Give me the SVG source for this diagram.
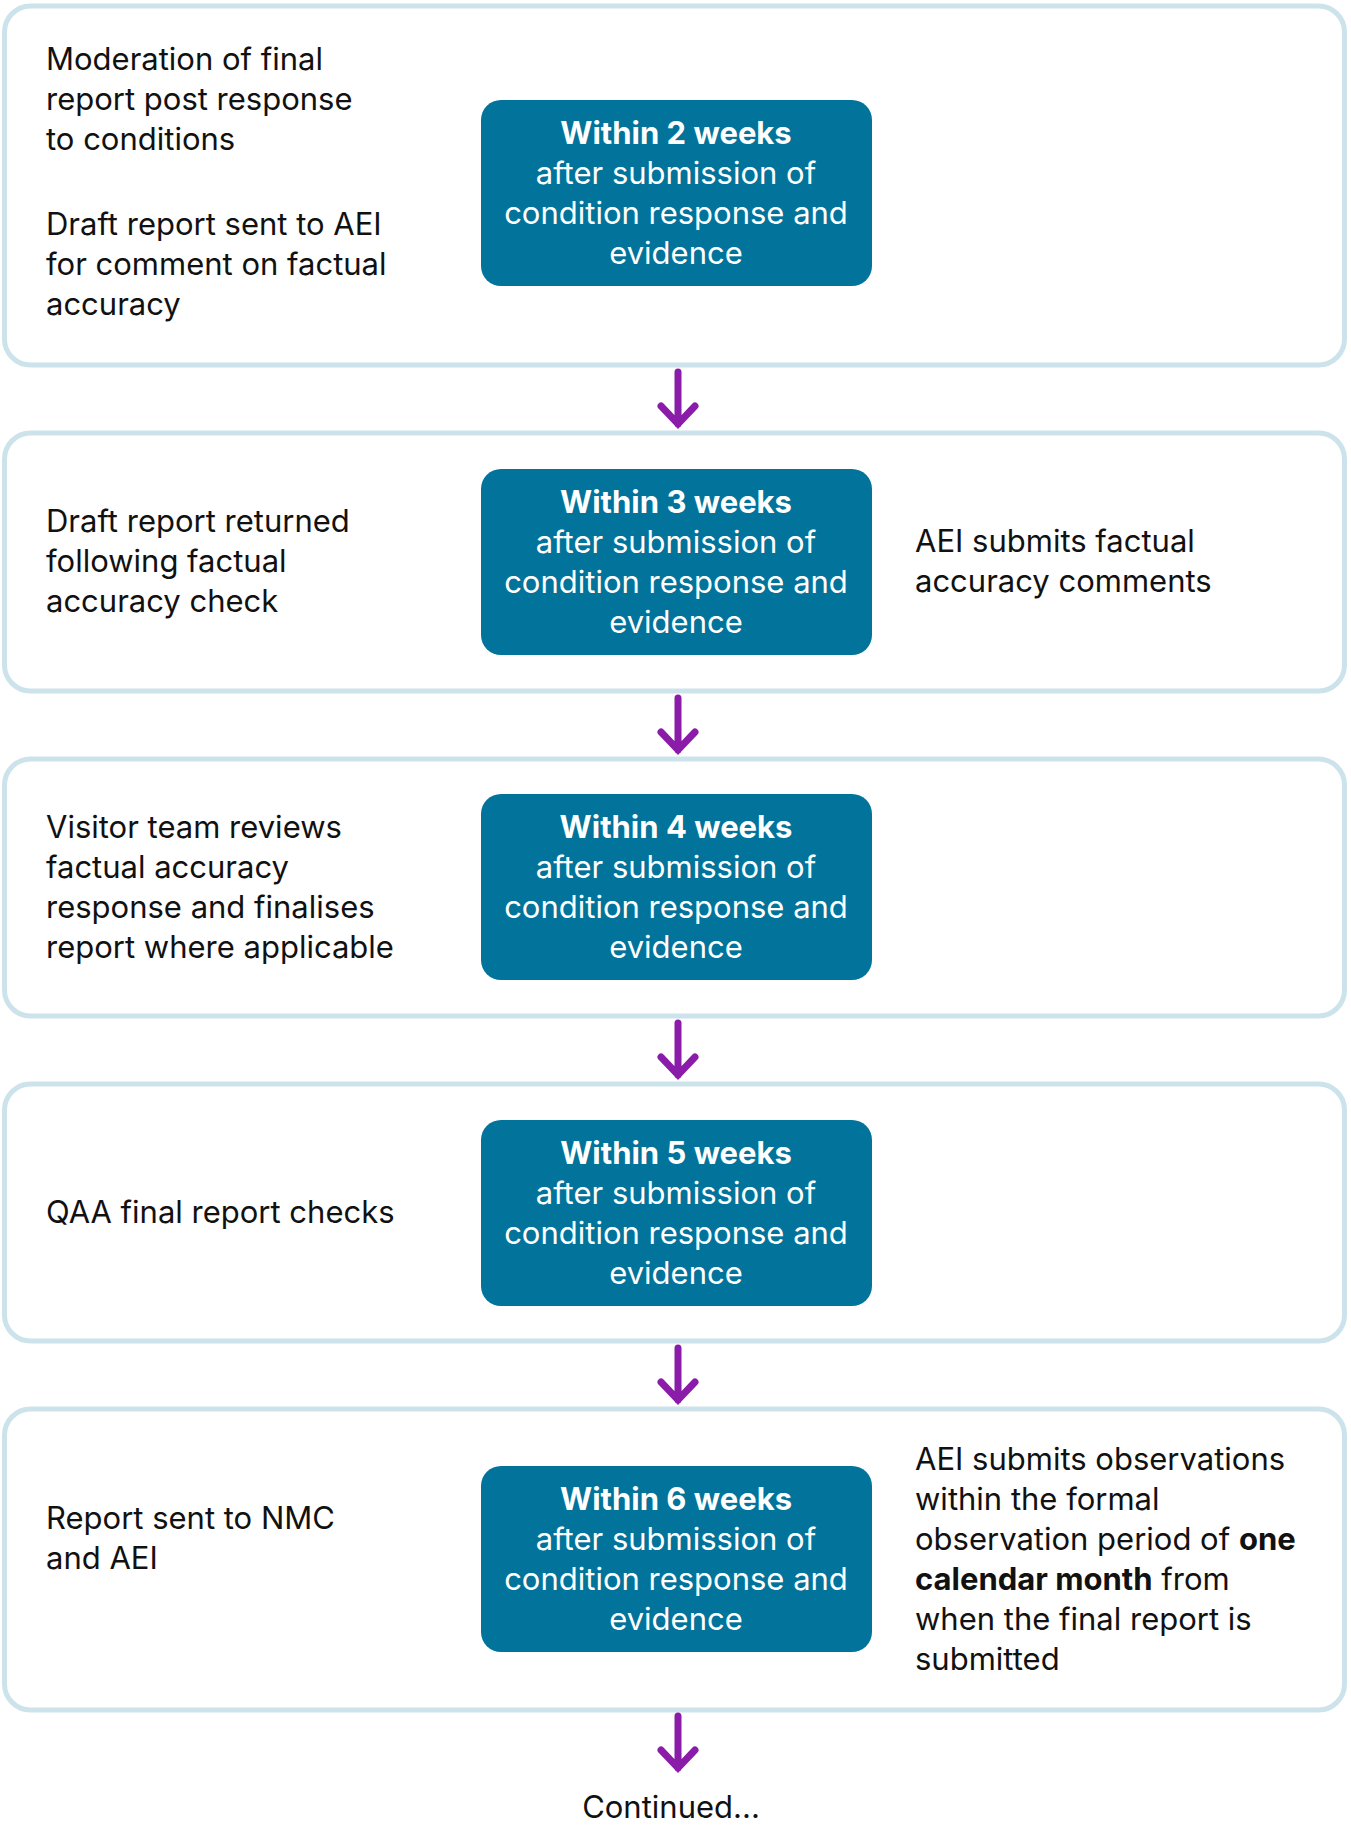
<svg xmlns="http://www.w3.org/2000/svg" width="1351" height="1825" viewBox="0 0 1351 1825">
<defs>
<style>
.frame{fill:#ffffff;stroke:#cde3eb;stroke-width:5}
.teal{fill:#02739a}
.t{font-family:Inter,"Liberation Sans",sans-serif;font-size:31px;fill:#111111}
.w{font-family:Inter,"Liberation Sans",sans-serif;font-size:31px;fill:#ffffff;text-anchor:middle}
.b{font-weight:700}
.arr{fill:none;stroke:#8b1ca9;stroke-width:7;stroke-linecap:round;stroke-linejoin:miter}
</style>
</defs>
<rect width="1351" height="1825" fill="#ffffff"/>

<g id="step1">
<rect class="frame" x="4.5" y="6" width="1340" height="359" rx="26"/>
<rect class="teal" x="481" y="100" width="391" height="186" rx="20"/>
<text class="w"><tspan class="b" x="676" y="144">Within 2 weeks</tspan><tspan x="676" y="184">after submission of</tspan><tspan x="676" y="224">condition response and</tspan><tspan x="676" y="264">evidence</tspan></text>
<text class="t"><tspan x="46" y="70">Moderation of final</tspan><tspan x="46" y="110">report post response</tspan><tspan x="46" y="150">to conditions</tspan><tspan x="46" y="235">Draft report sent to AEI</tspan><tspan x="46" y="275">for comment on factual</tspan><tspan x="46" y="315">accuracy</tspan></text>
</g>

<g id="step2">
<rect class="frame" x="4.5" y="433" width="1340" height="258" rx="26"/>
<rect class="teal" x="481" y="469" width="391" height="186" rx="20"/>
<text class="w"><tspan class="b" x="676" y="513">Within 3 weeks</tspan><tspan x="676" y="553">after submission of</tspan><tspan x="676" y="593">condition response and</tspan><tspan x="676" y="633">evidence</tspan></text>
<text class="t"><tspan x="46" y="532">Draft report returned</tspan><tspan x="46" y="572">following factual</tspan><tspan x="46" y="612">accuracy check</tspan></text>
<text class="t"><tspan x="915" y="552">AEI submits factual</tspan><tspan x="915" y="592">accuracy comments</tspan></text>
</g>

<g id="step3">
<rect class="frame" x="4.5" y="759" width="1340" height="257" rx="26"/>
<rect class="teal" x="481" y="794" width="391" height="186" rx="20"/>
<text class="w"><tspan class="b" x="676" y="838">Within 4 weeks</tspan><tspan x="676" y="878">after submission of</tspan><tspan x="676" y="918">condition response and</tspan><tspan x="676" y="958">evidence</tspan></text>
<text class="t"><tspan x="46" y="838">Visitor team reviews</tspan><tspan x="46" y="878">factual accuracy</tspan><tspan x="46" y="918">response and finalises</tspan><tspan x="46" y="958">report where applicable</tspan></text>
</g>

<g id="step4">
<rect class="frame" x="4.5" y="1084" width="1340" height="257" rx="26"/>
<rect class="teal" x="481" y="1120" width="391" height="186" rx="20"/>
<text class="w"><tspan class="b" x="676" y="1164">Within 5 weeks</tspan><tspan x="676" y="1204">after submission of</tspan><tspan x="676" y="1244">condition response and</tspan><tspan x="676" y="1284">evidence</tspan></text>
<text class="t" x="46" y="1223">QAA final report checks</text>
</g>

<g id="step5">
<rect class="frame" x="4.5" y="1409" width="1340" height="301" rx="26"/>
<rect class="teal" x="481" y="1466" width="391" height="186" rx="20"/>
<text class="w"><tspan class="b" x="676" y="1510">Within 6 weeks</tspan><tspan x="676" y="1550">after submission of</tspan><tspan x="676" y="1590">condition response and</tspan><tspan x="676" y="1630">evidence</tspan></text>
<text class="t"><tspan x="46" y="1529">Report sent to NMC</tspan><tspan x="46" y="1569">and AEI</tspan></text>
<text class="t"><tspan x="915" y="1470">AEI submits observations</tspan><tspan x="915" y="1510">within the formal</tspan><tspan x="915" y="1550">observation period of <tspan class="b">one</tspan></tspan><tspan x="915" y="1590"><tspan class="b">calendar month</tspan> from</tspan><tspan x="915" y="1630">when the final report is</tspan><tspan x="915" y="1670">submitted</tspan></text>
</g>

<g id="continued">
<text class="t" x="671" y="1818" text-anchor="middle">Continued...</text>
</g>

<g id="connectors">
<path class="arr" d="M678 372 V424 M661 406 L678 424 L695 406"/>
<path class="arr" d="M678 698 V750 M661 732 L678 750 L695 732"/>
<path class="arr" d="M678 1023 V1075 M661 1057 L678 1075 L695 1057"/>
<path class="arr" d="M678 1348 V1400 M661 1382 L678 1400 L695 1382"/>
<path class="arr" d="M678 1716 V1768 M661 1750 L678 1768 L695 1750"/>
</g>
</svg>
